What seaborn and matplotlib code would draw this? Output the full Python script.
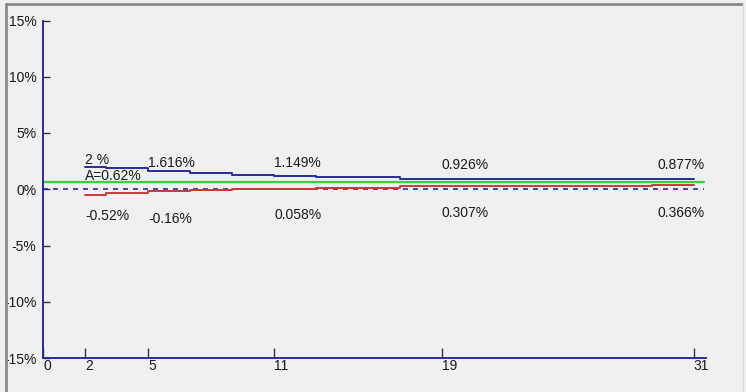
import seaborn as sns
import matplotlib.pyplot as plt
import pandas as pd
from matplotlib.lines import Line2D

# step points (x) and the two bound series, in percent
steps = [2, 3, 5, 7, 9, 11, 13, 17, 19, 23, 29, 31]
upper = [2.0, 1.85, 1.616, 1.42, 1.30, 1.149, 1.05, 0.95, 0.926, 0.90, 0.88, 0.877]
lower = [-0.52, -0.35, -0.16, -0.05, 0.0, 0.058, 0.15, 0.26, 0.307, 0.33, 0.36, 0.366]

avg = 0.62
ref_span = [0, 31.5]

x_ticks = [0, 2, 5, 11, 19, 31]
y_ticks = [-15, -10, -5, 0, 5, 10, 15]

upper_labels = ["2 %", "1.616%", "1.149%", "0.926%", "0.877%"]
lower_labels = ["-0.52%", "-0.16%", "0.058%", "0.307%", "0.366%"]
label_x = [2, 5, 11, 19, 29.3]
upper_label_y = [2.6, 2.3, 2.3, 2.15, 2.15]
lower_label_y = [-2.4, -2.65, -2.25, -2.1, -2.1]

bg = "#f0f0f0"
navy = "#2a2a9a"

sns.set_style("white", {"axes.facecolor": bg, "figure.facecolor": bg})
plt.rcParams["font.family"] = ["Liberation Sans", "DejaVu Sans"]

df = pd.DataFrame({"x": steps, "upper": upper, "lower": lower})
ref = pd.DataFrame({"x": ref_span, "avg": [avg] * len(ref_span), "zero": [0] * len(ref_span)})

fig = plt.figure(figsize=(7.46, 3.92), dpi=100)
ax = fig.add_axes([43.3 / 746, 1 - 358 / 392, (706 - 43.3) / 746, (358 - 20.5) / 392])

sns.lineplot(data=ref, x="x", y="zero", ax=ax, color=navy, lw=1.2, linestyle=(0, (3, 3)))
sns.lineplot(data=ref, x="x", y="avg", ax=ax, color="#3ad03a", lw=1.6)
sns.lineplot(data=df, x="x", y="lower", ax=ax, color="#d03535", lw=1.4, drawstyle="steps-post")
sns.lineplot(data=df, x="x", y="upper", ax=ax, color=navy, lw=1.4, drawstyle="steps-post")

for lx, ly, t in zip(label_x, upper_label_y, upper_labels):
    ax.text(lx, ly, t, ha="left", va="center", fontsize=10, color="#1a1a1a")
for lx, ly, t in zip(label_x, lower_label_y, lower_labels):
    ax.text(lx, ly, t, ha="left", va="center", fontsize=10, color="#1a1a1a")
ax.text(2, 1.2, "A=0.62%", ha="left", va="center", fontsize=10, color="#1a1a1a")

ax.set_xlim(0, 31.59)
ax.set_ylim(-15, 15)
ax.set_xticks(x_ticks)
ax.set_xticklabels([str(v) for v in x_ticks], ha="left")
ax.set_yticks(y_ticks)
ax.set_yticklabels([f"{v}%" for v in y_ticks])
ax.set_xlabel("")
ax.set_ylabel("")

for side in ["top", "right"]:
    ax.spines[side].set_visible(False)
for side in ["left", "bottom"]:
    ax.spines[side].set_color(navy)
    ax.spines[side].set_linewidth(1.4)

ax.tick_params(axis="x", direction="in", length=7, width=1, color="#333333",
               labelsize=10, labelcolor="#1a1a1a", pad=1, bottom=True)
ax.tick_params(axis="y", direction="in", length=5, width=1, color="#333333",
               labelsize=10, labelcolor="#1a1a1a", pad=5, left=True)

# sunken panel frame
fig.add_artist(Line2D([6 / 746, 6 / 746], [0, 1 - 4 / 392], transform=fig.transFigure,
                      color="#8a8a8a", lw=2))
fig.add_artist(Line2D([6 / 746, 742 / 746], [1 - 4 / 392, 1 - 4 / 392], transform=fig.transFigure,
                      color="#8a8a8a", lw=2))
fig.add_artist(Line2D([743 / 746, 743 / 746], [0, 1 - 4 / 392], transform=fig.transFigure,
                      color="#dcdcdc", lw=1))

fig.savefig("out.png", dpi=100, facecolor=bg)
